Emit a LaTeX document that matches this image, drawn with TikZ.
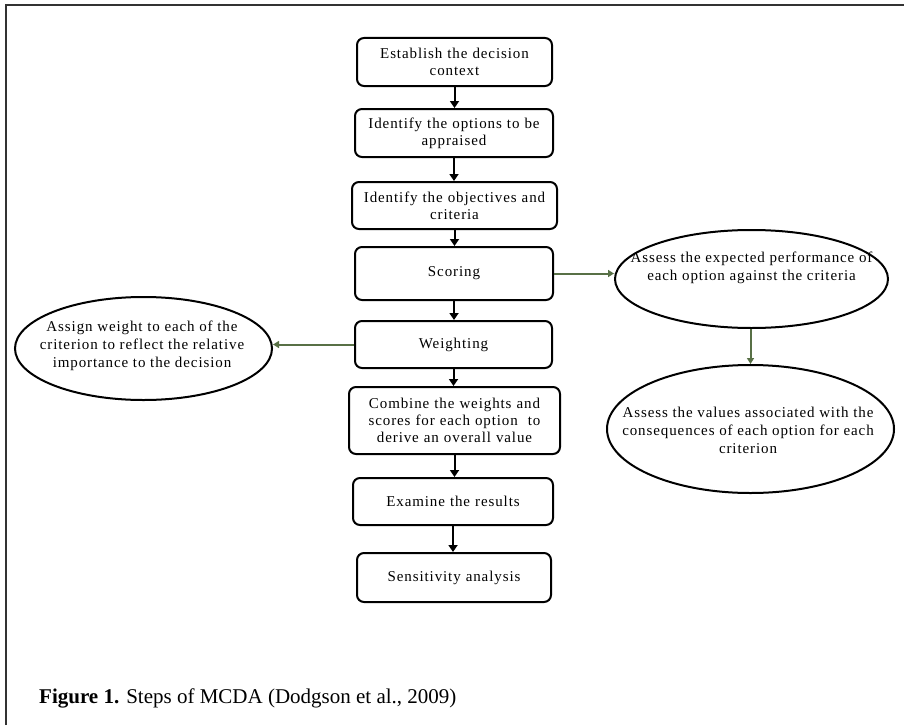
\documentclass[tikz,border=0pt]{standalone}
\usepackage{fontspec}
\setmainfont{Liberation Serif}
\newfontfamily\boxfont[LetterSpace=6]{Liberation Serif}
\usetikzlibrary{shapes.geometric,arrows.meta}
\definecolor{arrgreen}{RGB}{88,112,70}
\definecolor{framegray}{RGB}{50,50,50}
\tikzset{
  stepbox/.style={draw=black, line width=2pt, rounded corners=7pt, align=center,
    inner sep=2pt, font=\boxfont\fontsize{15}{17}\selectfont},
  oval/.style={draw=black, line width=2pt, ellipse, inner sep=0pt},
  ovaltext/.style={align=center, inner sep=0pt, font=\boxfont\fontsize{15}{18}\selectfont},
  flow/.style={line width=2pt, -{Triangle[length=7pt,width=9pt]}},
  gflow/.style={draw=arrgreen, line width=2pt, -{Triangle[length=6pt,width=7pt]}, arrgreen},
}
\begin{document}
\begin{tikzpicture}[x=1pt,y=-1pt]
\useasboundingbox (0,0) rectangle (904,725);
\draw[framegray, line width=2pt] (6,725) -- (6,5) -- (904,5);

\node[stepbox, minimum width=195pt, minimum height=48pt, text width=189pt] (b1) at (454.5,62) {Establish the decision\\context};
\node[stepbox, minimum width=198pt, minimum height=48pt, text width=192pt] (b2) at (454,133) {Identify the options to be\\appraised};
\node[stepbox, minimum width=205pt, minimum height=47pt, text width=199pt] (b3) at (454.5,205.5) {Identify the objectives and\\criteria};
\node[stepbox, minimum width=198pt, minimum height=53pt, text width=192pt] (b4) at (454,273.5) {Scoring};
\node[stepbox, minimum width=197pt, minimum height=47pt, text width=191pt] (b5) at (453.5,344.5) {Weighting};
\node[stepbox, minimum width=211pt, minimum height=67pt, text width=205pt] (b6) at (454.5,420.5) {Combine the weights and\\scores for each option\ \ to\\derive an overall value};
\node[stepbox, minimum width=200pt, minimum height=47pt, text width=194pt] (b7) at (453,501.5) {Examine the results};
\node[stepbox, minimum width=194pt, minimum height=49pt, text width=188pt] (b8) at (454,577.5) {Sensitivity analysis};

\node[oval, minimum width=273pt, minimum height=98pt] (e1) at (751.5,279) {};
\node[ovaltext] (e1t) at (751.5,268) {Assess the expected performance of\\each option against the criteria};
\node[oval, minimum width=287pt, minimum height=128pt] (e2) at (750.5,429) {};
\node[ovaltext] (e2t) at (748,430) {Assess the values associated with the\\consequences of each option for each\\criterion};
\node[oval, minimum width=257pt, minimum height=103pt] (e3) at (143.5,348.5) {};
\node[ovaltext] (e3t) at (142,346) {Assign weight to each of the\\criterion to reflect the relative\\importance to the decision};

\draw[flow] (b1.south) -- (b1.south |- b2.north);
\draw[flow] (b2.south) -- (b2.south |- b3.north);
\draw[flow] (b3.south) -- (b3.south |- b4.north);
\draw[flow] (b4.south) -- (b4.south |- b5.north);
\draw[flow] (b5.south) -- (b5.south |- b6.north);
\draw[flow] (b6.south) -- (b6.south |- b7.north);
\draw[flow] (b7.south) -- (b7.south |- b8.north);

\draw[gflow] (b4.east) -- (b4.east -| e1.west);
\draw[gflow] (e2.north |- e1.south) -- (e2.north);
\draw[gflow] (b5.west) -- (b5.west -| e3.east);

\node[anchor=west, font=\fontsize{21}{24}\selectfont, inner sep=0pt] (cap) at (39,698) {\textbf{Figure 1.} Steps of MCDA (Dodgson et al., 2009)};
\end{tikzpicture}
\end{document}
